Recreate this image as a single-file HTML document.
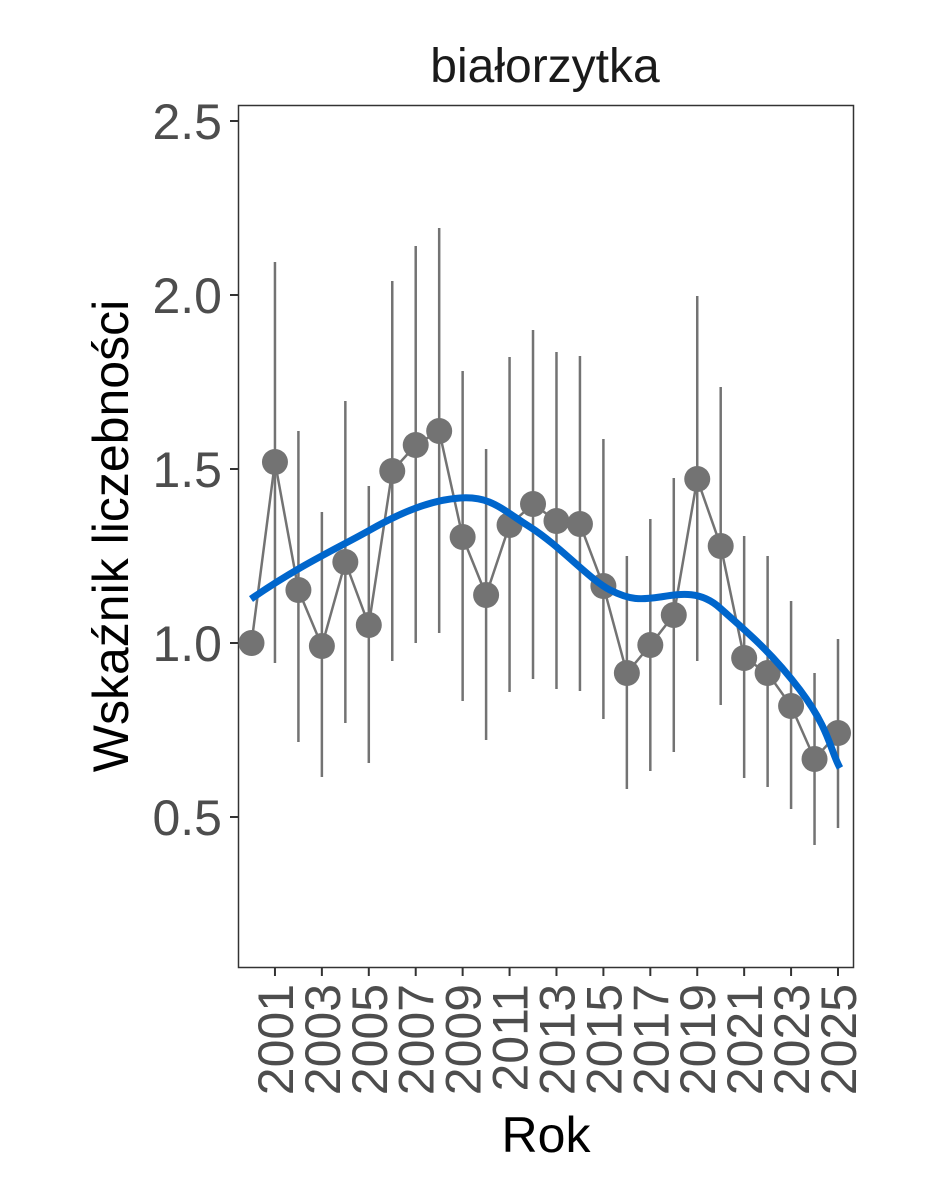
<!DOCTYPE html>
<html><head><meta charset="utf-8"><style>body{margin:0;background:#fff}</style></head><body>
<svg width="944" height="1181" xmlns="http://www.w3.org/2000/svg" font-family="Liberation Sans, sans-serif">
<rect width="944" height="1181" fill="#fff"/>
<text x="545" y="82" font-size="48" text-anchor="middle" fill="#1a1a1a">białorzytka</text>
<rect x="238.5" y="105.5" width="615" height="862" fill="none" stroke="#333" stroke-width="1.5"/>
<g stroke="#333" stroke-width="2">
<line x1="230" y1="121" x2="238" y2="121"/><line x1="230" y1="295" x2="238" y2="295"/><line x1="230" y1="469" x2="238" y2="469"/><line x1="230" y1="643" x2="238" y2="643"/><line x1="230" y1="817" x2="238" y2="817"/>
</g>
<g font-size="50" fill="#4d4d4d" text-anchor="end">
<text x="222" y="139">2.5</text><text x="222" y="313">2.0</text><text x="222" y="487">1.5</text><text x="222" y="661">1.0</text><text x="222" y="835">0.5</text>
</g>
<text transform="translate(128,536) rotate(-90)" font-size="50" text-anchor="middle" fill="#000">Wskaźnik liczebności</text>
<text x="546" y="1152" font-size="50" text-anchor="middle" fill="#000">Rok</text>
<g id="xt" stroke="#333" stroke-width="2"></g>
<g id="xl" font-size="50" fill="#4d4d4d"></g>
<g id="eb" stroke="#737373" stroke-width="2.5"></g>
<polyline id="pl" fill="none" stroke="#737373" stroke-width="2.5"/>
<g id="pts" fill="#737373"></g>
<path d="M251,599 C300,565 340,547 370,530 S430,500 460,498 S500,508 530,527 S590,580 610,590 S640,600 660,597 S700,590 720,608 S770,650 800,690 S830,750 840,768" fill="none" stroke="#0066cc" stroke-width="7"/>
<script>
var d=[[2000,643,643,643],[2001,462,262,663],[2002,590,431,742],[2003,646,512,777],[2004,562,401,723],[2005,625,486,763],[2006,471,281,661],[2007,445,246,643],[2008,431,228,633],[2009,537,371,701],[2010,595,449,740],[2011,525,357,692],[2012,504,330,679],[2013,521,352,689],[2014,524,356,691],[2015,586,439,719],[2016,673,556,789],[2017,645,519,771],[2018,615,478,752],[2019,479,296,661],[2020,546,387,705],[2021,658,536,778],[2022,673,556,787],[2023,706,601,809],[2024,759,673,845],[2025,733,639,828]];
var ns="http://www.w3.org/2000/svg";function X(y){return 251.5+(y-2000)*23.46}
function el(t,a,p){var e=document.createElementNS(ns,t);for(var k in a)e.setAttribute(k,a[k]);document.getElementById(p).appendChild(e);return e}
var pts=[];d.forEach(function(r){var x=X(r[0]);pts.push(x+","+r[1]);if(r[2]!=r[3])el("line",{x1:x,x2:x,y1:r[2],y2:r[3]},"eb");el("circle",{cx:x,cy:r[1],r:13},"pts");});
document.getElementById("pl").setAttribute("points",pts.join(" "));
for(var y=2001;y<=2025;y+=2){var x=X(y);el("line",{x1:x,x2:x,y1:968,y2:976},"xt");var t=el("text",{transform:"translate("+(x+18)+",984) rotate(-90)","text-anchor":"end"},"xl");t.textContent=y;}
</script>
</svg>
</body></html>
